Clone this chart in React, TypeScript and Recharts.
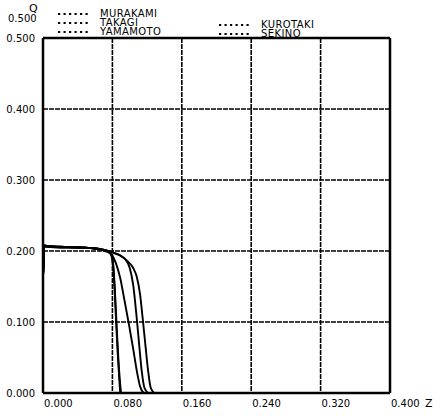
import React from "react";
import { LineChart, Line, XAxis, YAxis, CartesianGrid, ReferenceLine } from "recharts";

const zTicks = [0, 0.08, 0.16, 0.24, 0.32, 0.4];
const qTicks = [0, 0.1, 0.2, 0.3, 0.4, 0.5];

const murakamiZ = [0.0005, 0.0015, 0.005, 0.02, 0.04, 0.055, 0.065, 0.072, 0.077, 0.08, 0.082, 0.084, 0.086, 0.088, 0.089];
const murakamiQ = [0.172, 0.208, 0.207, 0.206, 0.205, 0.204, 0.203, 0.201, 0.198, 0.188, 0.158, 0.108, 0.058, 0.018, 0];

const takagiZ = [0.0005, 0.0015, 0.005, 0.02, 0.04, 0.055, 0.065, 0.072, 0.078, 0.081, 0.083, 0.085, 0.087, 0.089, 0.09];
const takagiQ = [0.178, 0.207, 0.206, 0.205, 0.205, 0.204, 0.202, 0.2, 0.196, 0.18, 0.142, 0.092, 0.046, 0.012, 0];

const yamamotoZ = [0.0005, 0.0015, 0.005, 0.02, 0.04, 0.055, 0.065, 0.072, 0.079, 0.084, 0.089, 0.094, 0.099, 0.104, 0.108, 0.112, 0.116];
const yamamotoQ = [0.17, 0.206, 0.206, 0.205, 0.205, 0.204, 0.202, 0.2, 0.195, 0.183, 0.162, 0.13, 0.097, 0.062, 0.032, 0.009, 0];

const kurotakiZ = [0.0005, 0.0015, 0.005, 0.02, 0.04, 0.055, 0.065, 0.072, 0.08, 0.088, 0.095, 0.1, 0.104, 0.108, 0.111, 0.114, 0.117, 0.121];
const kurotakiQ = [0.175, 0.207, 0.207, 0.206, 0.205, 0.204, 0.203, 0.201, 0.198, 0.194, 0.188, 0.176, 0.152, 0.106, 0.066, 0.029, 0.007, 0];

const sekinoZ = [0.0005, 0.0015, 0.005, 0.02, 0.04, 0.055, 0.065, 0.072, 0.08, 0.089, 0.098, 0.104, 0.108, 0.112, 0.115, 0.118, 0.121, 0.124, 0.128];
const sekinoQ = [0.168, 0.208, 0.207, 0.206, 0.205, 0.204, 0.203, 0.201, 0.198, 0.194, 0.185, 0.176, 0.164, 0.138, 0.104, 0.068, 0.033, 0.008, 0];

const seriesNames = ["MURAKAMI", "TAKAGI", "YAMAMOTO", "KUROTAKI", "SEKINO"];

const toPoints = (zs: number[], qs: number[]) => zs.map((z, i) => ({ z, q: qs[i] }));

const series = [
  { name: seriesNames[0], data: toPoints(murakamiZ, murakamiQ) },
  { name: seriesNames[1], data: toPoints(takagiZ, takagiQ) },
  { name: seriesNames[2], data: toPoints(yamamotoZ, yamamotoQ) },
  { name: seriesNames[3], data: toPoints(kurotakiZ, kurotakiQ) },
  { name: seriesNames[4], data: toPoints(sekinoZ, sekinoQ) },
];

const FONT = "'DejaVu Sans', sans-serif";

const XTick = (props: any) => {
  const { x, y, payload } = props;
  return (
    <text x={x + 1} y={y} dy={6} textAnchor="start" fontSize={10} fontFamily={FONT} fill="#000">
      {payload.value.toFixed(3)}
    </text>
  );
};

const YTick = (props: any) => {
  const { x, y, payload } = props;
  return (
    <text x={x} y={y} dy={4} textAnchor="end" fontSize={10} fontFamily={FONT} fill="#000">
      {payload.value.toFixed(3)}
    </text>
  );
};

const Marker = () => (
  <svg width={32} height={6} style={{ display: "block" }}>
    <line x1={1} y1={3} x2={32} y2={3} stroke="#000" strokeWidth={2.2} strokeDasharray="2.2 3.3" />
  </svg>
);

const LegendRow = ({ name }: { name: string }) => (
  <div style={{ display: "flex", alignItems: "center", height: 9, lineHeight: "9px" }}>
    <Marker />
    <span style={{ marginLeft: 11, fontSize: 10, fontFamily: FONT, color: "#000", letterSpacing: 0.4 }}>{name}</span>
  </div>
);

export default function App() {
  return (
    <div style={{ position: "absolute", left: 0, top: 0, width: 440, height: 416, background: "#fff" }}>
      <LineChart width={440} height={416} margin={{ top: 38, right: 50, bottom: 0, left: 0 }}>
        <CartesianGrid stroke="#000" strokeWidth={1.6} strokeDasharray="5 1" />
        <XAxis
          type="number"
          dataKey="z"
          domain={[0, 0.4]}
          ticks={zTicks}
          tick={<XTick />}
          tickLine={false}
          axisLine={{ stroke: "#000", strokeWidth: 2.5 }}
          height={23}
          allowDuplicatedCategory={false}
        />
        <YAxis
          type="number"
          dataKey="q"
          domain={[0, 0.5]}
          ticks={qTicks}
          tick={<YTick />}
          tickLine={false}
          axisLine={{ stroke: "#000", strokeWidth: 2.5 }}
          width={43}
        />
        <ReferenceLine y={0.5} stroke="#000" strokeWidth={2.5} />
        <ReferenceLine x={0.4} stroke="#000" strokeWidth={2.5} />
        {series.map((s) => (
          <Line
            key={s.name}
            name={s.name}
            data={s.data}
            dataKey="q"
            type="monotoneX"
            stroke="#000"
            strokeWidth={1.9}
            dot={false}
            isAnimationActive={false}
          />
        ))}
      </LineChart>
      <div style={{ position: "absolute", left: 57, top: 9 }}>
        <LegendRow name={seriesNames[0]} />
        <LegendRow name={seriesNames[1]} />
        <LegendRow name={seriesNames[2]} />
      </div>
      <div style={{ position: "absolute", left: 218, top: 20 }}>
        <LegendRow name={seriesNames[3]} />
        <LegendRow name={seriesNames[4]} />
      </div>
      <div style={{ position: "absolute", left: 29, top: 2, fontSize: 11, fontFamily: FONT, color: "#000" }}>Q</div>
      <div style={{ position: "absolute", left: 8, top: 13, fontSize: 10, fontFamily: FONT, color: "#000" }}>0.500</div>
      <div style={{ position: "absolute", left: 425, top: 397, fontSize: 11, fontFamily: FONT, color: "#000" }}>Z</div>
    </div>
  );
}
